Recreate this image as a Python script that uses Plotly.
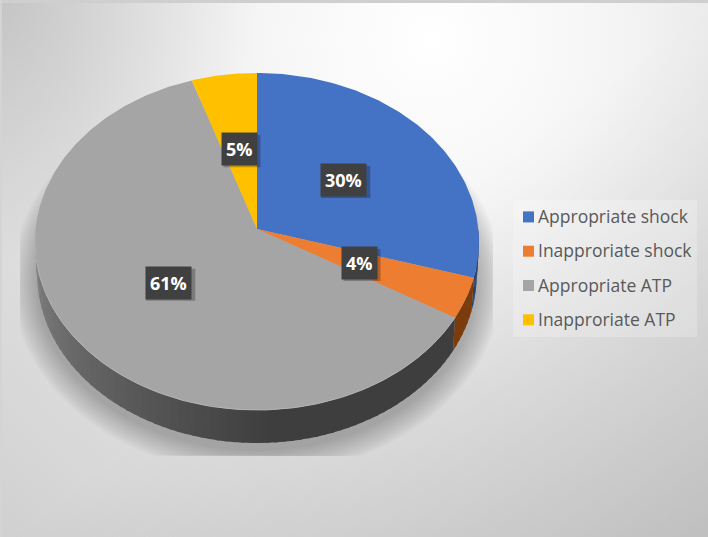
import base64
import numpy as np
import plotly.graph_objects as go

# ---- data ----
categories = ["Appropriate shock", "Inapproriate shock", "Appropriate ATP", "Inapproriate ATP"]
values = [29.6, 3.9, 61.4, 5.1]
colors = ["#4472c4", "#ed7d31", "#a5a5a5", "#ffc000"]
wall_colors = ["#24406f", "#7a3c0c", None, "#7a5c00"]

# ---- projection of the tilted disc onto the page (pixel-like axes) ----
CX, CY, RX, RY, K = 257.0, 229.0, 221.4, 167.6, 0.0741
DEPTH = 33.0


def project(theta, f=1.0):
    x, y = f * np.sin(theta), f * np.cos(theta)
    d = 1 + K * y
    return CX + RX * x / d, CY - RY * y / d


def wall_grey(deg):
    # shade of the grey slice's wall
    t = np.clip((deg - 175) / (275 - 175), 0, 1)
    v = int(62 + t * 76)
    return f"rgb({v},{v},{v})"


fractions = np.array(values) / sum(values)
edges = np.concatenate([[0], np.cumsum(fractions)]) * 2 * np.pi

fig = go.Figure()

# soft shadow beneath the disc
full = np.linspace(0, 2 * np.pi, 241)
fx, fy = project(full)
for s in np.linspace(26, 2, 13):
    sx = CX + (fx - CX) * (1 + s / 222) * 0.99
    sy = 241 + (fy - 241) * (1 + s / 175) + DEPTH + 6
    fig.add_trace(go.Scatter(x=np.clip(sx, 20, 493), y=np.minimum(sy, 456), mode="lines", fill="toself",
                             line=dict(width=0), fillcolor="rgba(0,0,0,0.02)",
                             hoverinfo="skip", showlegend=False))

# visible side wall, split into short pieces for its shading
for i, name in enumerate(categories):
    a0, a1 = max(edges[i], np.pi / 2), min(edges[i + 1], 3 * np.pi / 2)
    if a1 <= a0:
        continue
    n = max(1, int(np.degrees(a1 - a0) / 2))
    cuts = np.linspace(a0, a1, n + 1)
    for j in range(n):
        th = np.linspace(cuts[j], min(cuts[j + 1] + 0.01, a1), 5)
        px, py = project(th)
        lx = CX + (px - CX) * 0.99
        ly = py + DEPTH
        col = wall_colors[i] or wall_grey(np.degrees(cuts[j]))
        fig.add_trace(go.Scatter(x=np.concatenate([px, lx[::-1]]), y=np.concatenate([py, ly[::-1]]),
                                 mode="lines", fill="toself", line=dict(width=0), fillcolor=col,
                                 hoverinfo="skip", showlegend=False))

# top face slices
for i, name in enumerate(categories):
    th = np.linspace(edges[i], edges[i + 1], max(3, int(np.degrees(edges[i + 1] - edges[i]))))
    px, py = project(th)
    fig.add_trace(go.Scatter(x=np.concatenate([[CX], px, [CX]]), y=np.concatenate([[CY], py, [CY]]),
                             mode="lines", fill="toself", line=dict(width=0), fillcolor=colors[i],
                             name=name, hoverinfo="name", showlegend=False))

# pale rim along the front of the grey slice
th = np.linspace(edges[2], edges[3], 200)
th = th[th < 3 * np.pi / 2]
px, py = project(th)
fig.add_trace(go.Scatter(x=px, y=py, mode="lines", line=dict(width=1, color="#b4b4b4"),
                         hoverinfo="skip", showlegend=False))

# legend entries
for i, name in enumerate(categories):
    fig.add_trace(go.Scatter(x=[None], y=[None], mode="markers", name=name, legendgroup=name,
                             marker=dict(symbol="square", size=11, color=colors[i])))

# percentage labels, each with a small drop shadow
annotations, shapes = [], []
for i in range(len(values)):
    mid = (edges[i] + edges[i + 1]) / 2
    lx, ly = project(mid, 0.5)
    label = f"{round(values[i])}%"
    half = 6.5 + 6 * len(label)
    shapes.append(dict(type="rect", xref="x", yref="y", x0=lx - half + 2, x1=lx + half + 2,
                       y0=ly - 14, y1=ly + 18, line=dict(width=0), fillcolor="rgba(0,0,0,0.25)",
                       layer="above"))
    annotations.append(dict(x=float(lx), y=float(ly), xref="x", yref="y", showarrow=False, borderpad=4,
                            text=f"<b>{label}</b>", bgcolor="#404040",
                            font=dict(family="Open Sans", size=18, color="#ffffff")))

# page background
svg = """<svg xmlns='http://www.w3.org/2000/svg' width='708' height='537' preserveAspectRatio='none'>
<defs>
<radialGradient id='g' gradientUnits='userSpaceOnUse' cx='430' cy='40' r='660'>
<stop offset='0' stop-color='#ffffff'/><stop offset='0.25' stop-color='#f6f6f6'/>
<stop offset='0.55' stop-color='#e4e4e4'/><stop offset='0.8' stop-color='#d9d9d9'/>
<stop offset='1' stop-color='#d0d0d0'/>
</radialGradient>
<radialGradient id='tl' gradientUnits='userSpaceOnUse' cx='0' cy='0' r='260'>
<stop offset='0' stop-color='#000' stop-opacity='0.12'/><stop offset='1' stop-color='#000' stop-opacity='0'/>
</radialGradient>
<linearGradient id='br' x1='0.5' y1='0.5' x2='1' y2='1'>
<stop offset='0' stop-color='#000' stop-opacity='0'/><stop offset='1' stop-color='#000' stop-opacity='0.11'/>
</linearGradient>
</defs>
<rect width='708' height='537' fill='url(#g)'/>
<rect width='708' height='537' fill='url(#tl)'/>
<rect width='708' height='537' fill='url(#br)'/>
<rect width='708' height='3' fill='#cfcfcf'/>
<rect width='2' height='537' fill='#d4d4d4'/>
</svg>"""
bg = "data:image/svg+xml;base64," + base64.b64encode(svg.encode()).decode()

fig.update_layout(
    width=708, height=537,
    margin=dict(l=0, r=0, t=0, b=0),
    paper_bgcolor="rgba(0,0,0,0)", plot_bgcolor="rgba(0,0,0,0)",
    xaxis=dict(range=[0, 708], visible=False, fixedrange=True),
    yaxis=dict(range=[537, 0], visible=False, fixedrange=True),
    images=[dict(source=bg, xref="paper", yref="paper", x=0, y=1, sizex=1, sizey=1,
                 sizing="stretch", layer="below", xanchor="left", yanchor="top")],
    annotations=annotations,
    shapes=shapes,
    showlegend=True,
    legend=dict(x=513 / 708, y=1 - 200 / 537, xanchor="left", yanchor="top",
                bgcolor="rgba(255,255,255,0.22)", borderwidth=0,
                font=dict(family="Open Sans", size=16, color="#595959"),
                tracegroupgap=10.5,
                itemclick=False, itemdoubleclick=False),
)

# the legend swatch and text sit closer together and nearer the box edge
shift = """
document.querySelectorAll('.legend .legendtext').forEach(function(t){
  t.setAttribute('x', parseFloat(t.getAttribute('x')) - 15);
  t.style.fontSize = '17.5px';
});
document.querySelectorAll('.legend .legendsymbols').forEach(function(s){
  s.setAttribute('transform', 'translate(-4.5,0)');
});
var b = document.querySelector('.legend .bg');
if (b) { b.setAttribute('width', 184); b.style.width = '184px'; }
document.body.style.margin = '0';
"""
fig.write_html("out.html", post_script=shift, config={"displayModeBar": False})
